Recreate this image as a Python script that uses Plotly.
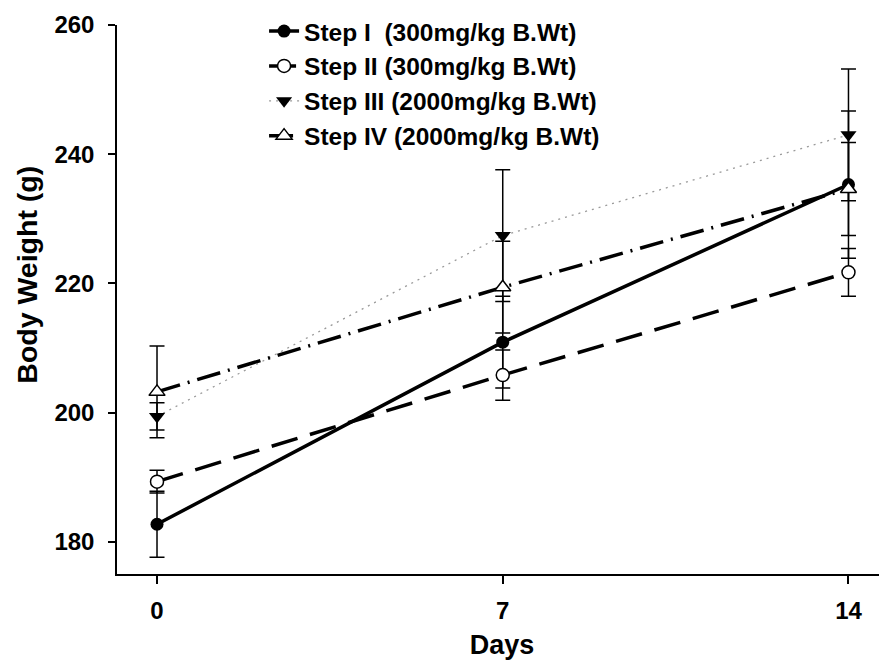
import plotly.graph_objects as go

days = [0, 7, 14]
series_names = [
    "Step I  (300mg/kg B.Wt)",
    "Step II (300mg/kg B.Wt)",
    "Step III (2000mg/kg B.Wt)",
    "Step IV (2000mg/kg B.Wt)",
]
step1 = [182.7, 210.9, 235.3]
step1_err = [5.1, 7.1, 11.4]
step2 = [189.3, 205.8, 221.7]
step2_err = [1.75, 3.9, 3.7]
step3 = [199.4, 227.4, 243.0]
step3_err = [2.1, 10.2, 10.2]
step4 = [203.2, 219.4, 234.6]
step4_err = [7.1, 7.1, 7.2]
y_ticks = [180, 200, 220, 240, 260]

FONT = "Liberation Sans, Arial, sans-serif"

styles = [
    dict(line=dict(color="black", width=3.5),
         marker=dict(symbol="circle", size=13, color="black")),
    dict(line=dict(color="black", width=3.5, dash="27px,13px"),
         marker=dict(symbol="circle", size=13, color="white",
                     line=dict(color="black", width=1.5))),
    dict(line=dict(color="#9a9a9a", width=1.3, dash="2px,5px"),
         marker=dict(symbol="triangle-down", size=14, color="black")),
    dict(line=dict(color="black", width=3.5, dash="24px,8px,2px,8px"),
         marker=dict(symbol="triangle-up", size=14, color="white",
                     line=dict(color="black", width=1.5))),
]
values = [step1, step2, step3, step4]
errors = [step1_err, step2_err, step3_err, step4_err]

fig = go.Figure()
for i, (name, vals, errs, st) in enumerate(zip(series_names, values, errors, styles)):
    fig.add_trace(go.Scatter(
        x=days, y=vals, name=name, mode="lines+markers",
        legendgroup="g%d" % i,
        line=st["line"], marker=st["marker"],
        error_y=dict(type="data", array=errs, visible=True,
                     color="black", thickness=1.5, width=7.5),
    ))

# The page body has an 8px default margin, so the figure is 8px smaller
fig.update_layout(
    width=879, height=652,
    margin=dict(l=109, r=0, t=17, b=86, autoexpand=False),
    paper_bgcolor="white", plot_bgcolor="white",
    font=dict(family=FONT, color="black"),
    showlegend=True,
    legend=dict(
        x=0.191, y=0.999, xref="paper", yref="container",
        xanchor="left", yanchor="top",
        bgcolor="rgba(0,0,0,0)",
        font=dict(family=FONT, size=24.5, color="black", weight="bold"),
        tracegroupgap=0,
        itemwidth=30,
    ),
    xaxis=dict(
        range=[-0.81, 14.78], automargin=False,
        tickvals=days, ticktext=[str(d) for d in days],
        showgrid=False, zeroline=False,
        showline=True, linecolor="black", linewidth=1.5,
        ticks="outside", ticklen=8, tickwidth=1.5, tickcolor="black",
        tickfont=dict(family=FONT, size=24, weight="bold"),
        ticklabelstandoff=6,
        title=dict(text="Days", font=dict(family=FONT, size=27, weight="bold"),
                   standoff=13),
    ),
    yaxis=dict(
        range=[175, 260], automargin=False,
        tickvals=y_ticks, ticktext=[str(v) for v in y_ticks],
        showgrid=False, zeroline=False,
        showline=True, linecolor="black", linewidth=1.5,
        ticks="outside", ticklen=7, tickwidth=1.5, tickcolor="black",
        tickfont=dict(family=FONT, size=24, weight="bold"),
        ticklabelstandoff=9,
    ),
    annotations=[dict(
        text="Body Weight (g)", textangle=-90, showarrow=False,
        xref="paper", yref="paper", x=-0.117, y=0.545,
        xanchor="center", yanchor="middle",
        font=dict(family=FONT, size=28.5, weight="bold", color="black"),
    )],
)

fig.write_html("out.html")
